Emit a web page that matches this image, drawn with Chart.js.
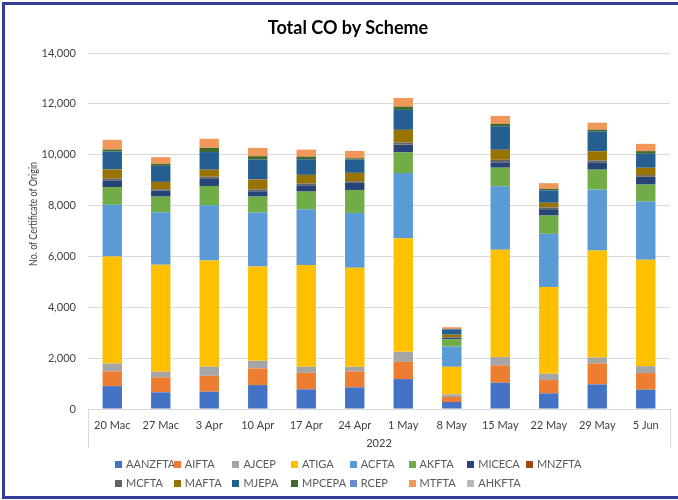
<!DOCTYPE html>
<html>
<head>
<meta charset="utf-8">
<script src="https://cdn.jsdelivr.net/npm/chart.js@4/dist/chart.umd.min.js"></script>
<style>
body{margin:0;background:#fff;font-family:Lato,"Liberation Sans",sans-serif;}
#wrap{position:relative;width:678px;height:500px;overflow:hidden;}
#frame{position:absolute;left:2px;top:2px;width:690px;height:491px;border:3px solid #353c98;border-right:none;}
#myChart{position:absolute;left:0;top:0;}
#title{position:absolute;left:0;width:696px;top:16px;text-align:center;font-size:18px;font-weight:bold;color:#000;}
#ytitle{position:absolute;left:33px;top:214px;transform:translate(-50%,-50%) rotate(-90deg) scaleX(0.85);white-space:nowrap;font-size:10.5px;color:#404040;}
#legend .item{position:absolute;font-size:11px;color:#595959;white-space:nowrap;line-height:14px;}
#legend .box{display:inline-block;width:7px;height:7px;margin-right:4px;vertical-align:0px;}
</style>
</head>
<body>
<div id="wrap">
	<div id="frame"></div>
	<canvas id="myChart" width="678" height="500"></canvas>
	<div id="title">Total CO by Scheme</div>
	<div id="ytitle">No. of Certificate of Origin</div>
	<div id="legend"></div>
</div>
<script>
//数据
var weeks=['20 Mac','27 Mac','3 Apr','10 Apr','17 Apr','24 Apr','1 May','8 May','15 May','22 May','29 May','5 Jun'];
var yTicks=[0,2000,4000,6000,8000,10000,12000,14000];
var AANZFTA=[900,654,680,941,771,850,1176,275,1033,614,967,758];
var AIFTA=[580,590,627,654,654,628,679,196,679,523,824,654];
var AJCEP=[310,220,353,300,235,182,392,105,327,248,235,274];
var ATIGA=[4210,4210,4183,3713,4000,3895,4471,1084,4222,3412,4209,4183];
var ACFTA=[2030,2064,2170,2117,2196,2157,2563,798,2497,2092,2392,2288];
var AKFTA=[700,614,758,628,693,902,810,287,732,719,785,667];
var MICECA=[260,235,300,208,249,275,301,52,209,248,287,300];
var MNZFTA=[10,5,15,10,5,5,10,0,10,5,5,10];
var MCFTA=[60,50,50,65,65,65,78,20,92,66,66,65];
var MAFTA=[365,290,275,392,340,327,498,105,393,183,366,288];
var MJEPA=[700,630,693,784,614,523,784,209,926,483,771,549];
var MPCEPA=[80,80,170,130,105,52,130,20,94,65,78,105];
var RCEP=[0,0,0,0,0,0,0,0,0,0,0,0];
var MTFTA=[380,262,353,326,274,288,340,65,314,223,275,287];
var AHKFTA=[0,0,0,0,0,0,0,0,0,0,0,0];

var schemes=['AANZFTA','AIFTA','AJCEP','ATIGA','ACFTA','AKFTA','MICECA','MNZFTA','MCFTA','MAFTA','MJEPA','MPCEPA','RCEP','MTFTA','AHKFTA'];
var schemeData=[AANZFTA,AIFTA,AJCEP,ATIGA,ACFTA,AKFTA,MICECA,MNZFTA,MCFTA,MAFTA,MJEPA,MPCEPA,RCEP,MTFTA,AHKFTA];
var schemeColors=['#4472c4','#ed7d31','#a5a5a5','#ffc000','#5b9bd5','#70ad47','#264478','#9e480e','#636363','#997300','#255e91','#43682b','#698ed0','#f1975a','#b7b7b7'];

var datasets=[];
for(var i=0;i<schemes.length;i++){
	datasets.push({
		label:schemes[i],
		data:schemeData[i],
		backgroundColor:schemeColors[i],
		borderWidth:0,
		barPercentage:0.4,
		categoryPercentage:1
	});
}

//x轴两端延伸线
var axisEdges={
	id:'axisEdges',
	afterDraw:function(chart){
		var c=chart.ctx,a=chart.chartArea;
		c.save();
		c.strokeStyle='#d9d9d9';
		c.lineWidth=1;
		c.beginPath();
		c.moveTo(Math.round(a.left)+0.5,a.bottom);
		c.lineTo(Math.round(a.left)+0.5,448);
		c.moveTo(Math.round(a.right)+0.5,a.bottom);
		c.lineTo(Math.round(a.right)+0.5,448);
		c.stroke();
		c.restore();
	}
};

var ctx=document.getElementById('myChart');
var myChart=new Chart(ctx,{
	type:'bar',
	data:{labels:weeks,datasets:datasets},
	plugins:[axisEdges],
	options:{
		responsive:false,
		animation:false,
		layout:{padding:{left:0,right:8,top:53,bottom:50}},
		plugins:{legend:{display:false},title:{display:false},tooltip:{enabled:false}},
		scales:{
			x:{
				stacked:true,
				grid:{display:false},
				border:{color:'#d9d9d9'},
				ticks:{color:'#404040',font:{family:'Lato',size:11},padding:2,maxRotation:0,autoSkip:false},
				title:{display:true,text:'2022',color:'#404040',font:{family:'Lato',size:11},padding:{top:4,bottom:0}},
				afterFit:function(s){s.height=41;}
			},
			y:{
				stacked:true,
				min:0,max:14000,
				afterBuildTicks:function(s){s.ticks=yTicks.map(function(v){return {value:v};});},
				grid:{color:'#d9d9d9',drawTicks:false},
				border:{display:false},
				ticks:{color:'#404040',font:{family:'Lato',size:11},padding:12,
					callback:function(v){return v.toLocaleString('en-US');}},
				afterFit:function(s){s.width=88;}
			}
		}
	}
});

//图例
var legendBox=document.getElementById('legend');
for(var i=0;i<schemes.length;i++){
	var col=i%8,row=Math.floor(i/8);
	var el=document.createElement('div');
	el.className='item';
	el.style.left=(115+col*58.7)+'px';
	el.style.top=(457+row*19)+'px';
	el.innerHTML='<span class="box" style="background:'+schemeColors[i]+'"></span>'+schemes[i];
	legendBox.appendChild(el);
}
</script>
</body>
</html>
